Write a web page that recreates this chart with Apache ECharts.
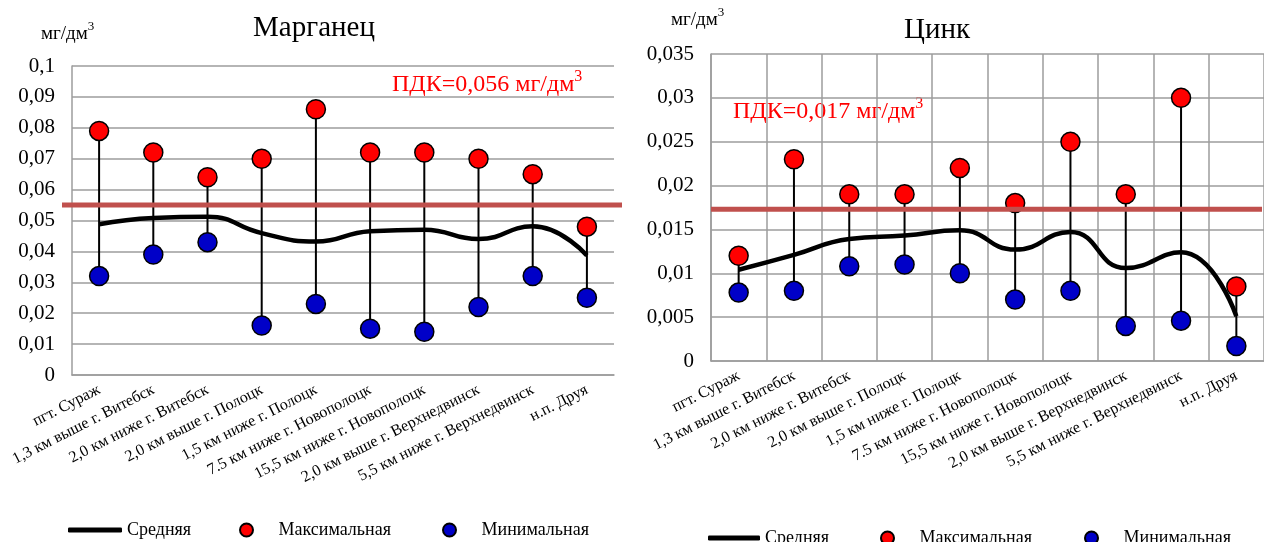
<!DOCTYPE html>
<html>
<head>
<meta charset="utf-8">
<script src="https://cdn.jsdelivr.net/npm/echarts@6/dist/echarts.min.js"></script>
<style>
html,body{margin:0;padding:0;background:#fff;}
#chart{width:1264px;height:542px;}
</style>
</head>
<body>
<div id="chart"></div>
<script>
const categories = ['пгт. Сураж','1,3 км выше г. Витебск','2,0 км ниже г. Витебск','2,0 км выше г. Полоцк','1,5 км ниже г. Полоцк','7.5 км ниже г. Новополоцк','15,5 км ниже г. Новополоцк','2,0 км выше г. Верхнедвинск','5,5 км ниже г. Верхнедвинск','н.п. Друя'];

// Марганец (Mn)
const mnMean = [0.0488, 0.0508, 0.0512, 0.0459, 0.0432, 0.0465, 0.0470, 0.0440, 0.0481, 0.0387];
const mnMax  = [0.079, 0.072, 0.064, 0.070, 0.086, 0.072, 0.072, 0.070, 0.065, 0.048];
const mnMin  = [0.032, 0.039, 0.043, 0.016, 0.023, 0.015, 0.014, 0.022, 0.032, 0.025];
const mnPdkLine = 0.055;
const mnPdkText = 'ПДК=0,056 мг/дм';

// Цинк (Zn)
const znMean = [0.0104, 0.0121, 0.0139, 0.0143, 0.0149, 0.0127, 0.0147, 0.0106, 0.0124, 0.0051];
const znMax  = [0.012, 0.023, 0.019, 0.019, 0.022, 0.018, 0.025, 0.019, 0.030, 0.0085];
const znMin  = [0.0078, 0.008, 0.0108, 0.011, 0.010, 0.007, 0.008, 0.004, 0.0046, 0.0017];
const znPdkLine = 0.0173;
const znPdkText = 'ПДК=0,017 мг/дм';

const seriesNames = ['Средняя', 'Максимальная', 'Минимальная'];
const titles = ['Марганец', 'Цинк'];
const unitText = 'мг/дм';

const serif = '"Liberation Serif", "DejaVu Serif", serif';
const gridColor = '#9c9c9c';
const fmt = v => String(+v.toFixed(3)).replace('.', ',');

function stems(xi, maxArr, minArr) {
  return {
    type: 'custom', xAxisIndex: xi, yAxisIndex: xi, silent: true, z: 2,
    encode: {x: 0, y: [1, 2]},
    data: maxArr.map((v, i) => [i, v, minArr[i]]),
    renderItem: function (params, api) {
      const p1 = api.coord([api.value(0), api.value(1)]);
      const p2 = api.coord([api.value(0), api.value(2)]);
      return {type: 'line', shape: {x1: p1[0], y1: p1[1], x2: p2[0], y2: p2[1]},
        style: {stroke: '#000', lineWidth: 2}};
    }
  };
}
function meanLine(xi, arr) {
  return {name: seriesNames[0], type: 'line', xAxisIndex: xi, yAxisIndex: xi, data: arr,
    smooth: 0.5, symbol: 'none', z: 3, lineStyle: {color: '#000', width: 4.5}, itemStyle: {color: '#000'}};
}
function dots(xi, arr, idx, color) {
  return {name: seriesNames[idx], type: 'scatter', xAxisIndex: xi, yAxisIndex: xi, data: arr,
    symbol: 'circle', symbolSize: 19, z: 4,
    itemStyle: {color: color, borderColor: '#000', borderWidth: 1.5, opacity: 1}};
}
function pdk(xi, val) {
  return {type: 'line', xAxisIndex: xi, yAxisIndex: xi, data: [[0, val], [1, val]],
    symbol: 'none', silent: true, z: 6, lineStyle: {color: '#C0504D', width: 5}};
}
function catAxis(gi, split) {
  return {gridIndex: gi, type: 'category', data: categories, boundaryGap: true,
    axisLine: {show: true, lineStyle: {color: gridColor, width: 1.5}},
    axisTick: {show: false},
    axisLabel: {interval: 0, rotate: 27, fontSize: 16, fontFamily: serif, color: '#000', margin: 14},
    splitLine: {show: split, interval: 0, lineStyle: {color: gridColor, width: 1.5}}};
}
function valAxis(gi, max, interval) {
  return {gridIndex: gi, type: 'value', min: 0, max: max, interval: interval,
    axisLine: {show: true, lineStyle: {color: gridColor, width: 1.5}},
    axisTick: {show: false},
    axisLabel: {formatter: fmt, fontSize: 21, fontFamily: serif, color: '#000', margin: 17},
    splitLine: {show: true, lineStyle: {color: gridColor, width: 1.5}}};
}
function legend(name, left, top, w, h, icon) {
  const item = icon ? {name: name, icon: icon} : name;
  return {data: [item], left: left, top: top, itemWidth: w, itemHeight: h, padding: 0,
    textStyle: {fontSize: 18, fontFamily: serif, color: '#000'}, selectedMode: false};
}
function supText(x, y, main, size, color, align) {
  return {type: 'text', x: x, y: y, silent: true,
    style: {text: '{a|' + main + '}{s|3}', align: align || 'left', verticalAlign: 'middle',
      rich: {a: {fontSize: size, fontFamily: serif, fill: color, lineHeight: size + 4, verticalAlign: 'bottom'},
             s: {fontSize: Math.round(size * 0.68), fontFamily: serif, fill: color, lineHeight: size + 4, verticalAlign: 'top'}}}};
}

const chart = echarts.init(document.getElementById('chart'));
chart.setOption({
  animation: false,
  grid: [
    {left: 72, top: 66, width: 542, height: 309},
    {left: 711, top: 54, width: 561, height: 307},
    {left: 62, top: 66, width: 560, height: 309},
    {left: 711, top: 54, width: 551, height: 307}
  ],
  xAxis: [
    catAxis(0, false), catAxis(1, true),
    {gridIndex: 2, type: 'value', min: 0, max: 1, show: false},
    {gridIndex: 3, type: 'value', min: 0, max: 1, show: false}
  ],
  yAxis: [
    valAxis(0, 0.1, 0.01), valAxis(1, 0.035, 0.005),
    {gridIndex: 2, type: 'value', min: 0, max: 0.1, show: false},
    {gridIndex: 3, type: 'value', min: 0, max: 0.035, show: false}
  ],
  legend: [
    legend(seriesNames[0], 68, 521, 54, 5, 'roundRect'),
    legend(seriesNames[1], 239, 521, 54, 13),
    legend(seriesNames[2], 442, 521, 54, 13),
    legend(seriesNames[0], 708, 529, 52, 5, 'roundRect'),
    legend(seriesNames[1], 880, 529, 54, 13),
    legend(seriesNames[2], 1084, 529, 54, 13)
  ],
  graphic: [
    {type: 'text', x: 314, y: 28, silent: true, style: {text: titles[0], font: '29px ' + serif, fill: '#000', align: 'center', verticalAlign: 'middle'}},
    {type: 'text', x: 937, y: 30, silent: true, style: {text: titles[1], font: '29px ' + serif, fill: '#000', align: 'center', verticalAlign: 'middle'}},
    supText(41, 32, unitText, 19, '#000'),
    supText(671, 18, unitText, 19, '#000'),
    supText(392, 83, mnPdkText, 24, '#FF0000'),
    supText(733, 110, znPdkText, 24, '#FF0000')
  ],
  series: [
    stems(0, mnMax, mnMin),
    meanLine(0, mnMean),
    dots(0, mnMax, 1, '#FF0000'),
    dots(0, mnMin, 2, '#0000C8'),
    stems(1, znMax, znMin),
    meanLine(1, znMean),
    dots(1, znMax, 1, '#FF0000'),
    dots(1, znMin, 2, '#0000C8'),
    pdk(2, mnPdkLine),
    pdk(3, znPdkLine)
  ]
});
</script>
</body>
</html>
